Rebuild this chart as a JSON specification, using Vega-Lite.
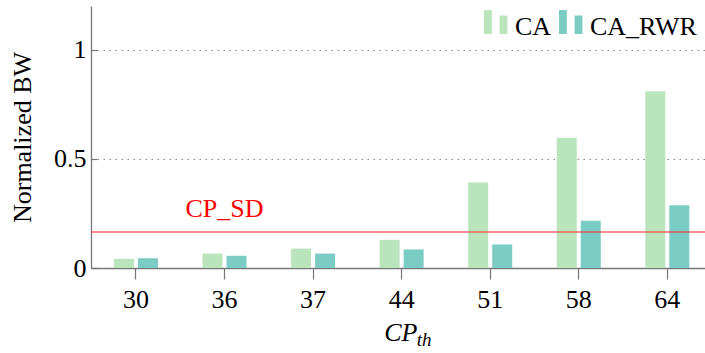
{
  "$schema": "https://vega.github.io/schema/vega-lite/v6.json",
  "width": 614,
  "height": 262,
  "autosize": {"type": "none"},
  "padding": {"left": 91, "top": 6, "right": 0, "bottom": 85},
  "config": {
    "font": "Liberation Serif, Times New Roman, serif",
    "view": {"stroke": null},
    "text": {"font": "Liberation Serif, Times New Roman, serif"},
    "axis": {
      "labelFont": "Liberation Serif, Times New Roman, serif",
      "labelFontSize": 26,
      "labelColor": "#000000",
      "titleFont": "Liberation Serif, Times New Roman, serif",
      "titleFontSize": 26,
      "titleFontWeight": "normal",
      "titleColor": "#000000",
      "domainColor": "#777777",
      "domainWidth": 1.3,
      "tickColor": "#777777",
      "tickWidth": 1.2
    }
  },
  "layer": [
    {
      "data": {
        "values": [
          {"cp": "30", "scheme": "CA", "bw": 0.042},
          {"cp": "30", "scheme": "CA_RWR", "bw": 0.045},
          {"cp": "36", "scheme": "CA", "bw": 0.066},
          {"cp": "36", "scheme": "CA_RWR", "bw": 0.056},
          {"cp": "37", "scheme": "CA", "bw": 0.089},
          {"cp": "37", "scheme": "CA_RWR", "bw": 0.066},
          {"cp": "44", "scheme": "CA", "bw": 0.129},
          {"cp": "44", "scheme": "CA_RWR", "bw": 0.085},
          {"cp": "51", "scheme": "CA", "bw": 0.392},
          {"cp": "51", "scheme": "CA_RWR", "bw": 0.108},
          {"cp": "58", "scheme": "CA", "bw": 0.597},
          {"cp": "58", "scheme": "CA_RWR", "bw": 0.216},
          {"cp": "64", "scheme": "CA", "bw": 0.81},
          {"cp": "64", "scheme": "CA_RWR", "bw": 0.287}
        ]
      },
      "mark": {"type": "bar"},
      "encoding": {
        "x": {
          "field": "cp",
          "type": "nominal",
          "sort": ["30", "36", "37", "44", "51", "58", "64"],
          "scale": {"paddingInner": 0.503, "paddingOuter": 0.218, "align": 0.594},
          "axis": {
            "labelAngle": 0,
            "tickSize": 11,
            "labelPadding": 7,
            "grid": false,
            "title": "CP",
            "titleFontStyle": "italic",
            "titleAlign": "right",
            "titleBaseline": "alphabetic",
            "titleX": 326,
            "titleY": 72
          }
        },
        "xOffset": {
          "field": "scheme",
          "type": "nominal",
          "sort": ["CA", "CA_RWR"],
          "scale": {"paddingInner": 0.167, "paddingOuter": 0}
        },
        "y": {
          "field": "bw",
          "type": "quantitative",
          "scale": {"domain": [0, 1.2], "nice": false, "zero": true},
          "axis": {
            "values": [0, 0.5, 1],
            "format": "~g",
            "grid": true,
            "gridDash": [1.5, 4.5],
            "gridColor": "#888888",
            "gridWidth": 1.2,
            "tickSize": -6,
            "labelPadding": 11,
            "title": "Normalized BW",
            "titleAngle": -90,
            "titleAlign": "center",
            "titleBaseline": "middle",
            "titleX": -69,
            "titleY": 131
          }
        },
        "color": {
          "field": "scheme",
          "type": "nominal",
          "scale": {"domain": ["CA", "CA_RWR"], "range": ["#bae4bc", "#7bccc4"]},
          "legend": {
            "title": null,
            "orient": "top-right",
            "direction": "horizontal",
            "offset": 8,
            "padding": 0,
            "symbolType": "M-1,-1.42H-0.35V0.58H-1Z M0.3,-0.95H0.95V0.58H0.3Z",
            "symbolSize": 576,
            "symbolStrokeWidth": 0,
            "symbolOpacity": 1,
            "labelFont": "Liberation Serif, Times New Roman, serif",
            "labelFontSize": 26,
            "labelColor": "#000000",
            "labelBaseline": "middle",
            "labelOffset": 6,
            "columnPadding": 6
          }
        }
      }
    },
    {
      "data": {"values": [{"level": 0.165, "label": "CP_SD", "at": "36"}]},
      "mark": {"type": "rule", "color": "#ff2020", "strokeWidth": 1.2},
      "encoding": {
        "y": {"field": "level", "type": "quantitative"}
      }
    },
    {
      "data": {"values": [{"level": 0.165, "label": "CP_SD", "at": "36"}]},
      "mark": {"type": "text", "color": "#ff0000", "fontSize": 26, "baseline": "alphabetic", "align": "center", "dy": -15, "font": "Liberation Serif, Times New Roman, serif"},
      "encoding": {
        "x": {"field": "at", "type": "nominal"},
        "y": {"field": "level", "type": "quantitative"},
        "text": {"field": "label"}
      }
    },
    {
      "data": {"values": [{"sub": "th", "at": "44", "base": 0}]},
      "mark": {"type": "text", "fontStyle": "italic", "fontSize": 19, "align": "left", "baseline": "alphabetic", "dx": 15, "dy": 78, "color": "#000000", "font": "Liberation Serif, Times New Roman, serif"},
      "encoding": {
        "x": {"field": "at", "type": "nominal"},
        "y": {"field": "base", "type": "quantitative"},
        "text": {"field": "sub"}
      }
    }
  ]
}
